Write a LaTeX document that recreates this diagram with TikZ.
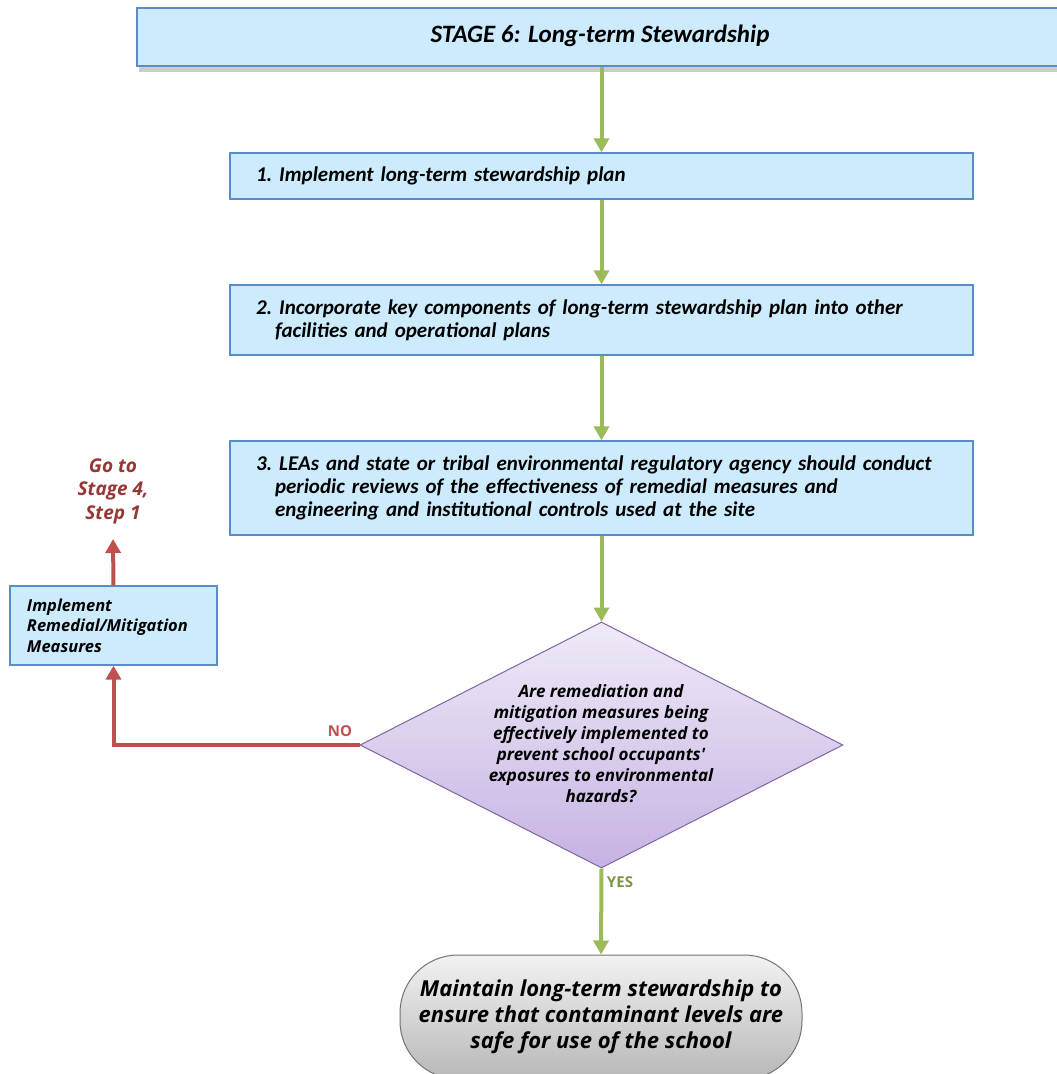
\documentclass[tikz,border=0pt]{standalone}
\usepackage{fontspec}
\setmainfont{Carlito}
\newfontfamily\qfont{Open Sans}
\usetikzlibrary{arrows.meta,shapes.geometric,shadows}
\definecolor{boxfill}{HTML}{CCEBFD}
\definecolor{boxline}{HTML}{5B8BC9}
\definecolor{grn}{HTML}{9BBB59}
\definecolor{rd}{HTML}{C0504D}
\definecolor{rdtxt}{HTML}{953735}
\definecolor{dline}{HTML}{8064A2}
\definecolor{dtop}{HTML}{F0EAF8}
\definecolor{dbot}{HTML}{C5B3E2}
\begin{document}
\begin{tikzpicture}[x=1pt,y=-1pt,
  stepbox/.style={draw=boxline,line width=1.3pt,fill=boxfill,minimum width=743,text width=691,
    inner xsep=26,align=left,font=\fontsize{21}{23}\selectfont\bfseries\itshape},
  garrow/.style={draw=grn,line width=4,-{Triangle[width=15pt,length=14pt]}},
  rarrow/.style={draw=rd,line width=4,-{Triangle[width=15pt,length=14pt]}}]
\useasboundingbox (0,0) rectangle (1057,1074);
\clip (0,0) rectangle (1057,1074);
% stage header
\node[draw=boxline,line width=2.2pt,fill=boxfill,minimum width=930,minimum height=58,
  drop shadow={shadow xshift=2pt,shadow yshift=-6pt,opacity=0.4}] (st) at (602,37) {};
\node[font=\fontsize{25}{28}\selectfont\bfseries\itshape] (sttxt) at (600,36) {STAGE 6: Long-term Stewardship};
% steps
\node[stepbox,minimum height=46] (s1) at (601.5,176) {1.\ Implement long-term stewardship plan};
\node[stepbox,minimum height=70] (s2) at (601.5,320) {2.\ Incorporate key components of long-term stewardship plan into other\\\hspace*{19pt}facilities and operational plans};
\node[stepbox,minimum height=94] (s3) at (601.5,488) {3.\ LEAs and state or tribal environmental regulatory agency should conduct\\\hspace*{19pt}periodic reviews of the effectiveness of remedial measures and\\\hspace*{19pt}engineering and institutional controls used at the site};
% decision
\node[diamond,draw=dline,line width=1pt,top color=dtop,bottom color=dbot,inner sep=0pt,
  minimum width=483,minimum height=246,aspect=1.96] (d) at (601.5,745) {};
\node[align=center,font=\qfont\fontsize{17}{21}\selectfont\bfseries\itshape] (dtxt) at (601,744)
  {Are remediation and\\mitigation measures being\\effectively implemented to\\prevent school occupants'\\exposures to environmental\\hazards?};
% side box
\node[draw=boxline,line width=1.3pt,fill=boxfill,minimum width=207,minimum height=79,text width=173,
  inner xsep=17,align=left,font=\qfont\fontsize{16.5}{20.5}\selectfont\bfseries\itshape] (side) at (113.5,625.5)
  {Implement\\Remedial/Mitigation\\Measures};
\node[align=center,text=rdtxt,inner sep=0pt,font=\qfont\fontsize{19}{23.5}\selectfont\bfseries\itshape] (goto) at (113,491)
  {Go to\\Stage 4,\\Step 1};
\coordinate (gotoend) at (113,539);
% terminal
\node[draw=black!55,line width=1pt,rounded corners=58,top color=black!5,bottom color=black!28,
  minimum width=402,minimum height=124] (t) at (601,1017) {};
\node[align=center,font=\qfont\fontsize{22}{26}\selectfont\bfseries\itshape] (ttxt) at (601,1017)
  {Maintain long-term stewardship to\\ensure that contaminant levels are\\safe for use of the school};
% connectors
\draw[garrow] (st.south -| s1.north) -- (s1.north);
\draw[garrow] (s1) -- (s2);
\draw[garrow] (s2) -- (s3);
\draw[garrow] (s3.south) -- (d.north);
\draw[garrow] (d.south) -- (t.north);
\draw[rarrow] (d.west) -| (side.south);
\draw[rarrow] (side.north) -- (gotoend);
% labels
\node[text=rd,font=\qfont\fontsize{15}{17}\selectfont\bfseries] (no) at (340,731) {NO};
\node[text=grn!80!black,font=\qfont\fontsize{15}{17}\selectfont\bfseries] (yes) at (620,882) {YES};
\end{tikzpicture}
\end{document}
